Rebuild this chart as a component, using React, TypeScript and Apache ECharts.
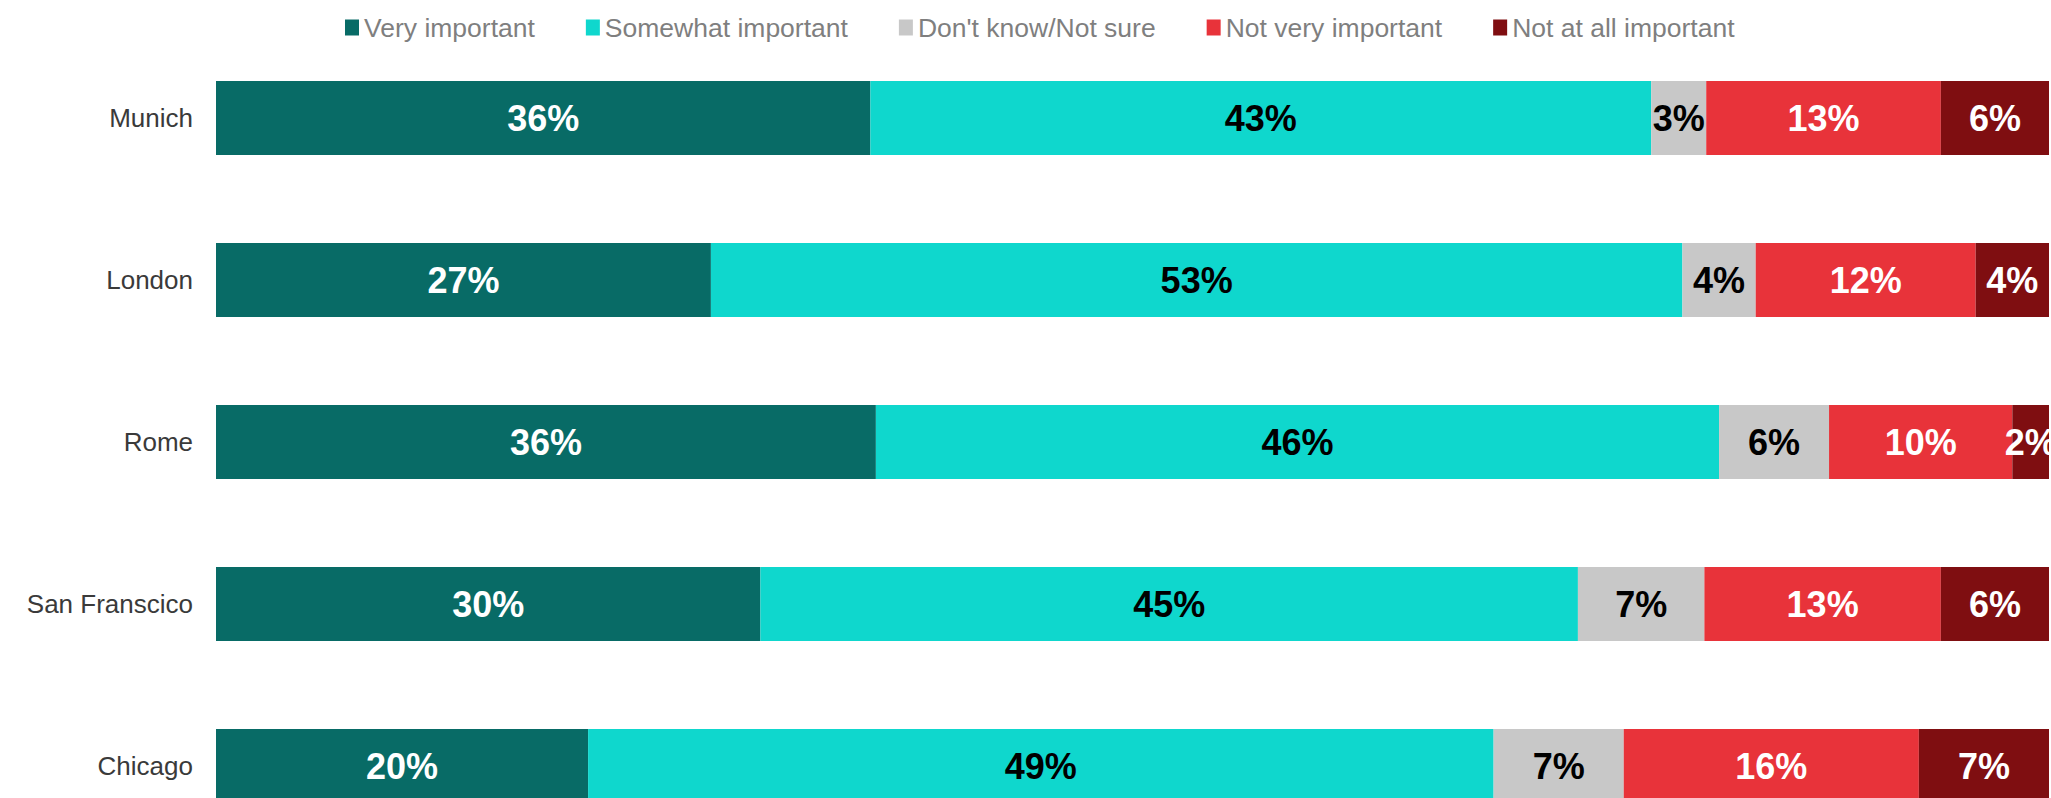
import React, { useEffect, useRef } from "react";
import * as echarts from "echarts";

const cities = ["Munich", "London", "Rome", "San Franscico", "Chicago"];
const seriesNames = ["Very important", "Somewhat important", "Don't know/Not sure", "Not very important", "Not at all important"];
const veryImportant = [35.7, 27, 36, 29.7, 20.3];
const somewhatImportant = [42.6, 53, 46, 44.6, 49.4];
const dontKnow = [3.0, 4, 6, 6.9, 7.1];
const notVeryImportant = [12.8, 12, 10, 12.9, 16.1];
const notAtAllImportant = [5.9, 4, 2, 5.9, 7.1];
const seriesColors = ["#086B66", "#0FD7CD", "#C8C8C8", "#E8333A", "#7F0E11"];
const labelColors = ["#ffffff", "#000000", "#000000", "#ffffff", "#ffffff"];

export default function App() {
  const ref = useRef<HTMLDivElement>(null);
  useEffect(() => {
    if (!ref.current) return;
    const chart = echarts.init(ref.current, null, { renderer: "svg" });
    const values = [veryImportant, somewhatImportant, dontKnow, notVeryImportant, notAtAllImportant];
    chart.setOption({
      animation: false,
      backgroundColor: "#ffffff",
      legend: {
        top: 9,
        left: 340,
        itemWidth: 14,
        itemHeight: 16,
        itemGap: 51,
        icon: "rect",
        textStyle: { fontFamily: "Liberation Sans", fontSize: 26.5, color: "#7f7f7f", padding: [0, 0, 0, 0] },
        data: seriesNames,
      },
      grid: { left: 216, right: 2, top: 37, height: 810, containLabel: false, outerBoundsMode: "none" },
      xAxis: { type: "value", min: 0, max: 100, show: false },
      yAxis: {
        type: "category",
        data: cities,
        inverse: true,
        axisLine: { show: false },
        axisTick: { show: false },
        axisLabel: { margin: 23, fontFamily: "Liberation Sans", fontSize: 26, color: "#3a3a3a" },
      },
      series: seriesNames.map((name, i) => ({
        name,
        type: "bar",
        stack: "total",
        barWidth: 74,
        data: values[i],
        itemStyle: { color: seriesColors[i] },
        label: {
          show: true,
          position: "inside",
          formatter: (p: any) => Math.round(p.value) + "%",
          fontFamily: "Liberation Sans",
          fontWeight: "bold",
          fontSize: 36,
          color: labelColors[i],
        },
      })),
    });
    return () => chart.dispose();
  }, []);
  return (
    <div
      ref={ref}
      style={{ position: "fixed", top: 0, left: 0, width: 2051, height: 798 }}
    />
  );
}
